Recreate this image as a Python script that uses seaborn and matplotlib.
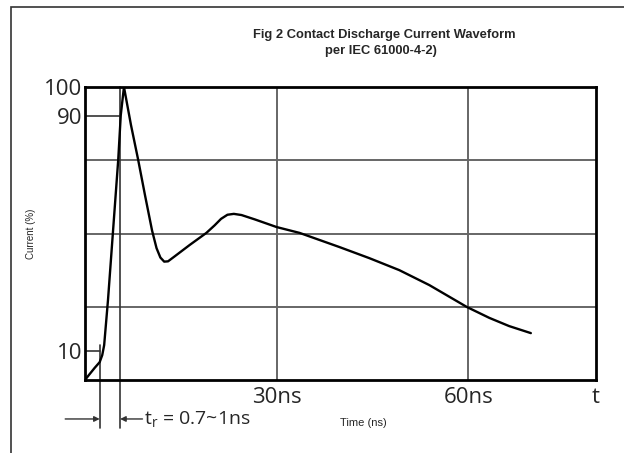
import numpy as np
import pandas as pd
import seaborn as sns
import matplotlib.pyplot as plt
from matplotlib.patches import Rectangle

# waveform (time in ns, current in % of peak)
t_ns = [0.0, 0.5, 1.5, 2.3, 2.7, 3.0, 3.6, 4.4, 5.2, 5.6, 6.1,
        7.2, 8.3, 9.4, 10.5, 11.2, 11.8, 12.4, 13.0, 14.1, 16.4, 19.0,
        20.3, 21.3, 22.3, 23.3, 24.5, 26.6, 30.0, 33.6, 39.8, 44.5, 49.2,
        53.9, 59.8, 63.3, 66.4, 69.8]
current_pct = [0.0, 1.4, 4.1, 6.1, 8.5, 11.9, 27.3, 51.2, 75.1, 90.4, 100.0,
               87.0, 75.4, 63.0, 51.0, 45.0, 41.8, 40.4, 40.5, 42.3, 46.1, 50.2,
               52.8, 55.0, 56.4, 56.7, 56.3, 54.8, 52.2, 50.2, 45.4, 41.6, 37.5,
               32.4, 24.9, 21.2, 18.4, 16.0]

y_ticks = [10, 90, 100]
y_labels = ['10', '90', '100']
x_ticks = [30, 60, 80]
x_labels = ['30ns', '60ns', 't']
h_grid = [25, 50, 75]
v_grid = [30, 60]
t10, t90 = 2.3, 5.5   # 10% and 90% crossing times

df = pd.DataFrame({'Time (ns)': t_ns, 'Current (%)': current_pct})

sns.set_style('white')
plt.rcParams['font.family'] = ['Open Sans', 'DejaVu Sans']
plt.rcParams['mathtext.default'] = 'regular'

fig = plt.figure(figsize=(6.24, 4.53), dpi=100)
ax = fig.add_axes([85 / 624, 73 / 453, 511 / 624, 293 / 453])

# grid lines
for g in h_grid:
    ax.axhline(g, color='#666666', lw=1.4, zorder=1)
for g in v_grid:
    ax.axvline(g, color='#666666', lw=1.4, zorder=1)

# the waveform
sns.lineplot(data=df, x='Time (ns)', y='Current (%)', color='black', lw=1.7,
             ax=ax, zorder=3)

# 10% / 90% level marks and rise time markers
ax.plot([0, t90], [90, 90], color='#333333', lw=1.2)
ax.plot([0, t10], [10, 10], color='#333333', lw=1.2)
ax.plot([t90, t90], [100, -16.5], color='#333333', lw=1.2, clip_on=False)
ax.plot([t10, t10], [12, -16.5], color='#333333', lw=1.2, clip_on=False)
ax.annotate('', xy=(t10, -13.3), xytext=(-3.1, -13.3),
            arrowprops=dict(arrowstyle='-|>', color='#333333', lw=1.0,
                            mutation_scale=8, shrinkA=0, shrinkB=0),
            annotation_clip=False)
ax.annotate('', xy=(t90, -13.3), xytext=(9.0, -13.3),
            arrowprops=dict(arrowstyle='-|>', color='#333333', lw=1.0,
                            mutation_scale=8, shrinkA=0, shrinkB=0),
            annotation_clip=False)
ax.text(9.2, -13.3, r'$t_r$ = 0.7~1ns', fontsize=14, va='center', ha='left')

ax.set_xlim(0, 80)
ax.set_ylim(0, 100)
ax.set_yticks(y_ticks)
ax.set_yticklabels(y_labels, fontsize=16)
ax.set_xticks(x_ticks)
ax.set_xticklabels(x_labels, fontsize=16)
ax.tick_params(axis='y', length=0, pad=2)
ax.tick_params(axis='x', length=0, pad=5)
for s in ax.spines.values():
    s.set_linewidth(2.0)
    s.set_color('black')

ax.set_ylabel('Current (%)', fontsize=7, family=['Liberation Sans'])
ax.yaxis.set_label_coords(-0.095, 0.5)
ax.set_xlabel('Time (ns)', fontsize=8, family=['Liberation Sans'])
ax.xaxis.set_label_coords(0.545, -0.13)

fig.text(384 / 624, 1 - 35 / 453, 'Fig 2 Contact Discharge Current Waveform',
         ha='center', va='center', fontsize=9.3, fontweight='bold',
         family=['Liberation Sans'])
fig.text(381 / 624, 1 - 51 / 453, 'per IEC 61000-4-2)',
         ha='center', va='center', fontsize=9.3, fontweight='bold',
         family=['Liberation Sans'])

# outer frame of the picture
fig.patches.append(Rectangle((11 / 624, -0.1), 1.2, 1.1 - 7 / 453,
                             transform=fig.transFigure, fill=False,
                             ec='#333333', lw=1.2))

fig.savefig('out.png', dpi=100)
